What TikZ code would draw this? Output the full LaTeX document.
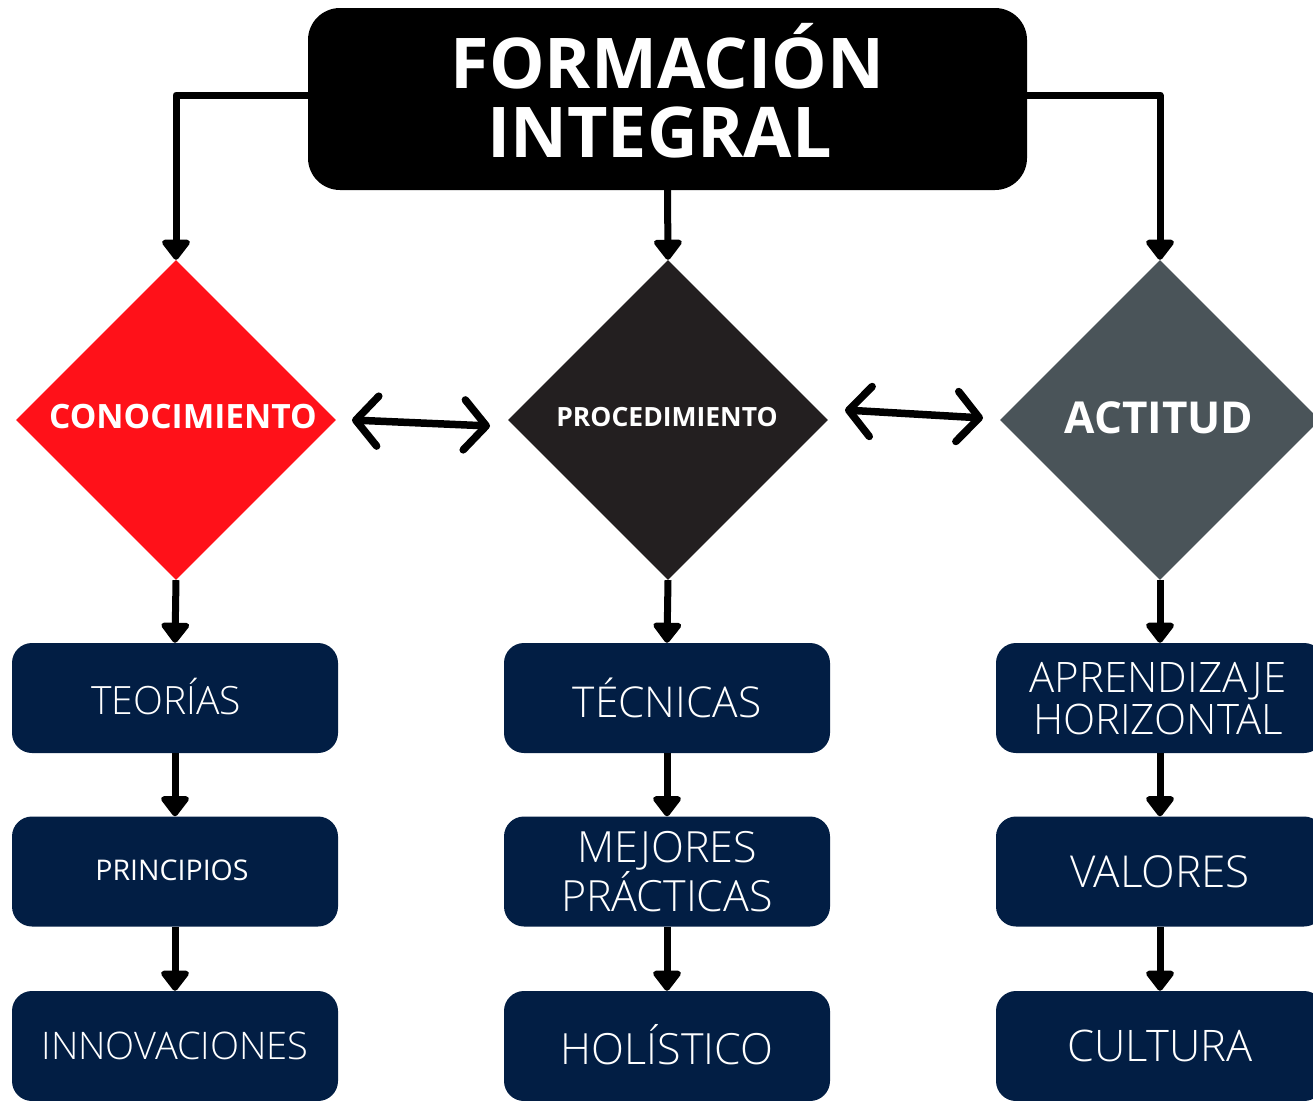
\documentclass[tikz,border=0pt]{standalone}
\usepackage{fontspec}
\setmainfont{Open Sans}
\newfontfamily\lightf{Open Sans Light}
\usetikzlibrary{shapes.geometric,arrows.meta}
\definecolor{cred}{HTML}{FF1119}
\definecolor{cdark}{HTML}{231F20}
\definecolor{cgray}{HTML}{4A5459}
\definecolor{cnavy}{HTML}{021E44}
\tikzset{
  dmd/.style={diamond,aspect=1,minimum width=320pt,minimum height=320pt,inner sep=0pt},
  dlabel/.style={text=white,inner sep=0pt},
  nbox/.style={rectangle,rounded corners=20pt,fill=cnavy,minimum width=326pt,minimum height=110pt,inner sep=0pt,text=white,align=center},
  conn/.style={line width=7pt,-{Triangle[width=32pt,length=22pt,round]}},
  elbow/.style={line width=7pt,line join=round,-{Triangle[width=32pt,length=22pt,round]}},
  dbl/.style={line width=7.5pt,line cap=round,{Straight Barb[length=22pt,width=50pt,round]}-{Straight Barb[length=22pt,width=50pt,round]}}
}
\begin{document}
\begin{tikzpicture}[x=1pt,y=-1pt]
\clip (0,0) rectangle (1313,1100);
\useasboundingbox (0,0) rectangle (1313,1100);
\fill[white] (0,0) rectangle (1313,1100);
% title
\node[rectangle,rounded corners=32pt,fill=black,minimum width=719pt,minimum height=182pt,inner sep=0pt] (title) at (667.5,99) {};
\node[text=white,align=center,inner sep=0pt,font=\bfseries\fontsize{70}{69}\selectfont] (titletext) at (667.5,91) {FORMACIÓN\\\hspace*{-16pt}INTEGRAL};
% diamonds
\node[dmd,fill=cred] (con) at (176,420) {};
\node[dmd,fill=cdark] (pro) at (668,420) {};
\node[dmd,fill=cgray] (act) at (1160,420) {};
\node[dlabel,font=\bfseries\fontsize{33.5}{36}\selectfont] (conlabel) at (183,417) {CONOCIMIENTO};
\node[dlabel,font=\bfseries\fontsize{26.5}{28}\selectfont] (prolabel) at (667,417) {PROCEDIMIENTO};
\node[dlabel,font=\bfseries\fontsize{44}{48}\selectfont] (actlabel) at (1159,418) {ACTITUD};
% boxes left
\node[nbox] (teo) at (175,698) {};
\node[text=white,inner sep=0pt,font=\lightf\fontsize{39}{42}\selectfont] (teolabel) at (166,697) {TEORÍAS};
\node[nbox] (pri) at (175,871.5) {};
\node[text=white,inner sep=0pt,font=\fontsize{28.5}{30}\selectfont] (prilabel) at (172,870) {PRINCIPIOS};
\node[nbox,font=\lightf\fontsize{38}{42}\selectfont] (inn) at (175,1046) {INNOVACIONES};
% boxes middle
\node[nbox,font=\lightf\fontsize{42.5}{42}\selectfont] (tec) at (667,698) {TÉCNICAS};
\node[nbox,font=\lightf\fontsize{43}{42}\selectfont] (mej) at (667,871.5) {MEJORES\\PRÁCTICAS};
\node[nbox] (hol) at (667,1046) {};
\node[text=white,inner sep=0pt,font=\lightf\fontsize{43}{42}\selectfont] (hollabel) at (667,1045) {HOLÍSTICO};
% boxes right
\node[nbox,minimum width=328pt] (apr) at (1160,698) {};
\node[text=white,inner sep=0pt,align=center,font=\lightf\fontsize{42}{42}\selectfont] (aprlabel) at (1158,699) {APRENDIZAJE\\HORIZONTAL};
\node[nbox,minimum width=328pt,font=\lightf\fontsize{44}{42}\selectfont] (val) at (1160,871.5) {VALORES};
\node[nbox,minimum width=328pt,font=\lightf\fontsize{43.5}{42}\selectfont] (cul) at (1160,1046) {CULTURA};
% title connectors
\coordinate (tl) at (308,95);
\coordinate (tr) at (1027,95);
\draw[elbow] (tl) -| (con.north);
\draw[elbow] (tr) -| (act.north);
\draw[conn] (title.south) -- (pro.north);
% double arrows
\coordinate (d1a) at (352,420);
\coordinate (d1b) at (490,426);
\coordinate (d2a) at (845,410);
\coordinate (d2b) at (983,418);
\draw[dbl] (d1a) -- (d1b);
\draw[dbl] (d2a) -- (d2b);
% down arrows
\draw[conn] (con.south) -- (teo.north);
\draw[conn] (teo.south) -- (pri.north);
\draw[conn] (pri.south) -- (inn.north);
\draw[conn] (pro.south) -- (tec.north);
\draw[conn] (tec.south) -- (mej.north);
\draw[conn] (mej.south) -- (hol.north);
\draw[conn] (act.south) -- (apr.north);
\draw[conn] (apr.south) -- (val.north);
\draw[conn] (val.south) -- (cul.north);
\end{tikzpicture}
\end{document}
